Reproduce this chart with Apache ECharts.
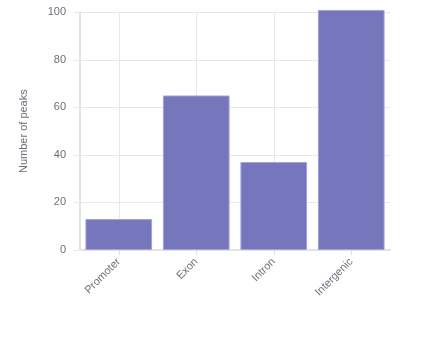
<!DOCTYPE html>
<html><head><meta charset="utf-8">
<script src="https://cdn.jsdelivr.net/npm/echarts@6/dist/echarts.min.js"></script>
<style>html,body{margin:0;padding:0;background:#fff}#c{width:440px;height:340px}</style>
</head><body><div id="c"></div>
<script>
const categories = ["Promoter", "Exon", "Intron", "Intergenic"];
const peakCounts = [13, 65, 37, 101];
const yTicks = [0, 20, 40, 60, 80, 100];

const chart = echarts.init(document.getElementById('c'), null, {renderer: 'canvas'});
chart.setOption({
  animation: false,
  grid: {left: 80, right: 50, top: 12.3, bottom: 90},
  xAxis: {
    type: 'category',
    data: categories,
    axisLine: {show: true, lineStyle: {color: '#e3e3e3', width: 2}},
    axisTick: {show: true, alignWithLabel: true, length: 5, lineStyle: {color: '#e0e0e0'}},
    splitLine: {show: true, alignWithLabel: true, lineStyle: {color: '#e8e8e8'}},
    axisLabel: {rotate: 45, fontSize: 11, color: '#6e6e7a', margin: 10, fontFamily: 'Liberation Sans, Arial, sans-serif'}
  },
  yAxis: {
    type: 'value',
    min: yTicks[0], max: yTicks[yTicks.length - 1], interval: 20,
    name: 'Number of peaks',
    nameLocation: 'middle',
    nameGap: 51,
    nameTextStyle: {fontSize: 11, color: '#6e6e7a', fontFamily: 'Liberation Sans, Arial, sans-serif'},
    axisLine: {show: true, lineStyle: {color: '#e3e3e3', width: 2}},
    axisTick: {show: true, length: 6, lineStyle: {color: '#e8e8e8'}},
    splitLine: {show: true, lineStyle: {color: '#e8e8e8'}},
    axisLabel: {fontSize: 11, color: '#6e6e7a', margin: 14, fontFamily: 'Liberation Sans, Arial, sans-serif'}
  },
  series: [{
    type: 'bar',
    data: peakCounts,
    clip: false,
    barCategoryGap: '14%',
    itemStyle: {color: '#7676bd', borderColor: '#a3a3d9', borderWidth: 1}
  }]
});
</script></body></html>
